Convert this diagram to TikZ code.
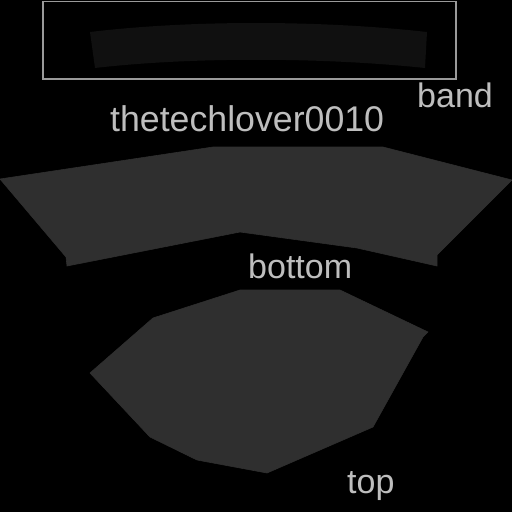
\documentclass[tikz,border=0pt]{standalone}
\usepackage{fontspec}
\setmainfont{Liberation Sans}
\usepackage{xcolor}
\usepackage{tikz}
\definecolor{clothgray}{HTML}{2F2F2F}
\definecolor{bandgray}{HTML}{101010}
\definecolor{framegray}{HTML}{9A9A9A}
\definecolor{labelgray}{HTML}{BEBEBE}
\tikzset{
  piece/.style={fill=clothgray, draw=clothgray, line width=0.6pt},
  partlabel/.style={text=labelgray, anchor=base west, inner sep=0pt, font=\fontsize{34}{40}\selectfont},
}

\begin{document}
\begin{tikzpicture}[x=1pt, y=-1pt] % pixel coordinates, y downwards
                \pgfmathsetmacro{\picsize}{512}

                % Background
                \fill[black] (0,0) rectangle (\picsize,\picsize);
                \useasboundingbox (0,0) rectangle (\picsize,\picsize);

                % Band (frame and faint strip)
                \draw[framegray, line width=1.3pt] (43,1.5) rectangle (456,79);
                \fill[bandgray] (90,32) .. controls (190,20) and (320,20) .. (427,32)
                    -- (425,68) .. controls (320,57) and (190,57) .. (95,68) -- cycle;
                \node[partlabel] (band) at (417,107) {band};

                % Watermark
                \node[partlabel, font=\fontsize{35.7}{42}\selectfont] (mark) at (110,131) {thetechlover0010};

                % Bottom piece
                \draw[piece] (0,179) -- (213,147) -- (383,147) -- (512,180)
                    -- (437,255) -- (437,266) -- (357,248) -- (240,232)
                    -- (67,266) -- (66,257) -- cycle;
                \node[partlabel] (bottom) at (248,278) {bottom};

                % Top piece
                \draw[piece] (240,290) -- (340,290) -- (428,332) -- (423,337)
                    -- (373,427) -- (267,473) -- (197,460) -- (150,437)
                    -- (90,373) -- (153,318) -- cycle;
                \node[partlabel] (top) at (347,493) {top};

            \end{tikzpicture}
\end{document}
